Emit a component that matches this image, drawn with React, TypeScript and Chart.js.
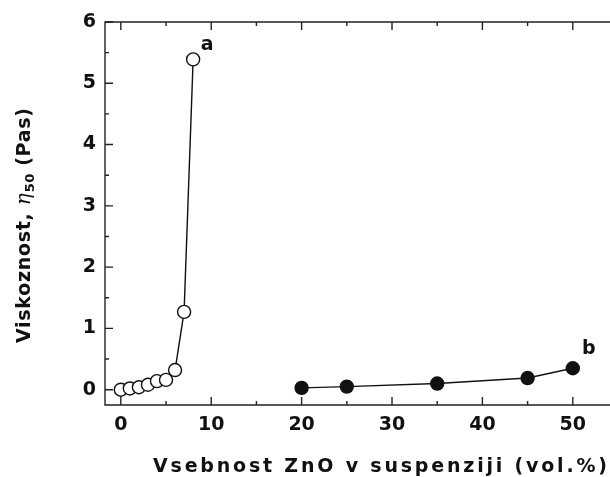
import React, { useEffect, useRef } from "react";
import { Chart, registerables } from "chart.js";

Chart.register(...registerables);

const xA = [0, 1, 2, 3, 4, 5, 6, 7, 8];
const yA = [0, 0.02, 0.04, 0.08, 0.14, 0.16, 0.32, 1.27, 5.39];
const xB = [20, 25, 35, 45, 50];
const yB = [0.03, 0.05, 0.1, 0.19, 0.35];
const xTicks = [0, 10, 20, 30, 40, 50];
const yTicks = [0, 1, 2, 3, 4, 5, 6];
const xTitle = "Vsebnost ZnO v suspenziji (vol.%)";
const yTitleParts = ["Viskoznost, ", "η", "50", " (Pas)"];
const seriesLabels = ["a", "b"];

const FONT = "'DejaVu Sans', sans-serif";

function plainWidth(ctx: any, text: string) {
  ctx.letterSpacing = "0px";
  return ctx.measureText(text).width;
}

const framePlugin = {
  id: "frame",
  afterDraw(chart: any) {
    const { ctx, chartArea: a, scales } = chart;
    const xs = scales.x;
    const ys = scales.y;
    ctx.save();
    ctx.strokeStyle = "#222";
    ctx.lineWidth = 1.4;
    ctx.beginPath();
    ctx.moveTo(a.left, a.top);
    ctx.lineTo(a.right, a.top);
    ctx.lineTo(a.right, a.bottom);
    ctx.lineTo(a.left, a.bottom);
    ctx.closePath();
    ctx.stroke();
    for (let v = 0; v <= 55; v += 5) {
      const px = xs.getPixelForValue(v);
      const len = v % 10 === 0 ? 8 : 4;
      ctx.beginPath();
      ctx.moveTo(px, a.bottom);
      ctx.lineTo(px, a.bottom - len);
      ctx.moveTo(px, a.top);
      ctx.lineTo(px, a.top + len);
      ctx.stroke();
    }
    for (let v = 0; v <= 6; v += 0.5) {
      const py = ys.getPixelForValue(v);
      const len = Number.isInteger(v) ? 8 : 4;
      ctx.beginPath();
      ctx.moveTo(a.left, py);
      ctx.lineTo(a.left + len, py);
      ctx.moveTo(a.right, py);
      ctx.lineTo(a.right - len, py);
      ctx.stroke();
    }
    // series labels
    ctx.fillStyle = "#111";
    ctx.font = `bold 19px ${FONT}`;
    ctx.textAlign = "center";
    ctx.textBaseline = "middle";
    const la = chart.getDatasetMeta(0).data[xA.length - 1];
    ctx.fillText(seriesLabels[0], la.x + 14, la.y - 14);
    const lb = chart.getDatasetMeta(1).data[xB.length - 1];
    ctx.fillText(seriesLabels[1], lb.x + 16, lb.y - 19);

    // x title, spread to target width
    ctx.font = `bold 19px ${FONT}`;
    ctx.textAlign = "left";
    ctx.textBaseline = "alphabetic";
    const targetX = 454;
    const w0x = plainWidth(ctx, xTitle);
    const spX = (targetX - w0x) / (xTitle.length - 1);
    (ctx as any).letterSpacing = `${spX}px`;
    ctx.fillText(xTitle, 153, 472);
    (ctx as any).letterSpacing = "0px";

    // y title
    ctx.save();
    ctx.translate(30, 225.5);
    ctx.rotate(-Math.PI / 2);
    ctx.textAlign = "left";
    ctx.textBaseline = "alphabetic";
    const fMain = `bold 19px ${FONT}`;
    const fEta = `italic 20px 'DejaVu Serif', serif`;
    const fSub = `bold 13px ${FONT}`;
    ctx.font = fMain;
    const n0 = plainWidth(ctx, yTitleParts[0]);
    const n3 = plainWidth(ctx, yTitleParts[3]);
    ctx.font = fEta;
    const w1 = ctx.measureText(yTitleParts[1]).width + 1;
    ctx.font = fSub;
    const w2 = plainWidth(ctx, yTitleParts[2]) + 1;
    const targetY = 235;
    const nChars = yTitleParts[0].length + yTitleParts[3].length - 1;
    const sp = Math.max(0, (targetY - (n0 + n3 + w1 + w2)) / nChars);
    const w0 = n0 + sp * yTitleParts[0].length;
    const total = w0 + w1 + w2 + n3 + sp * (yTitleParts[3].length - 1);
    let x = -total / 2;
    ctx.font = fMain;
    (ctx as any).letterSpacing = `${sp}px`;
    ctx.fillText(yTitleParts[0], x, 0);
    x += w0;
    ctx.font = fEta;
    (ctx as any).letterSpacing = "0px";
    ctx.fillText(yTitleParts[1], x, 0);
    x += w1;
    ctx.font = fSub;
    (ctx as any).letterSpacing = "0.5px";
    ctx.fillText(yTitleParts[2], x, 4);
    x += w2;
    ctx.font = fMain;
    (ctx as any).letterSpacing = `${sp}px`;
    ctx.fillText(yTitleParts[3], x, 0);
    (ctx as any).letterSpacing = "0px";
    ctx.restore();
    ctx.restore();
  },
};

export default function App() {
  const ref = useRef<HTMLCanvasElement>(null);
  useEffect(() => {
    if (!ref.current) return;
    const chart = new Chart(ref.current, {
      type: "scatter",
      data: {
        datasets: [
          {
            data: xA.map((x, i) => ({ x, y: yA[i] })),
            showLine: true,
            borderColor: "#111",
            borderWidth: 1.4,
            pointRadius: 6.5,
            pointBackgroundColor: "#fff",
            pointBorderColor: "#111",
            pointBorderWidth: 1.4,
            clip: false,
          },
          {
            data: xB.map((x, i) => ({ x, y: yB[i] })),
            showLine: true,
            borderColor: "#111",
            borderWidth: 1.4,
            pointRadius: 6.5,
            pointBackgroundColor: "#111",
            pointBorderColor: "#111",
            pointBorderWidth: 1.4,
            clip: false,
          },
        ],
      },
      options: {
        animation: false,
        responsive: false,
        layout: { autoPadding: false, padding: { top: 22, right: 0, left: 0, bottom: 0 } },
        plugins: { legend: { display: false }, tooltip: { enabled: false } },
        scales: {
          x: {
            type: "linear",
            min: -1.75,
            max: 55,
            grid: { display: false, drawTicks: false },
            border: { display: false },
            ticks: {
              padding: 9,
              color: "#111",
              font: { family: FONT, size: 19, weight: "bold" },
              maxRotation: 0,
            },
            afterBuildTicks: (s: any) => {
              s.ticks = xTicks.map((v) => ({ value: v }));
            },
            afterFit: (s: any) => {
              s.height = 72;
            },
          },
          y: {
            type: "linear",
            min: -0.25,
            max: 6,
            grid: { display: false, drawTicks: false },
            border: { display: false },
            ticks: {
              padding: 9,
              color: "#111",
              font: { family: FONT, size: 19, weight: "bold" },
            },
            afterBuildTicks: (s: any) => {
              s.ticks = yTicks.map((v) => ({ value: v }));
            },
            afterFit: (s: any) => {
              s.width = 105;
            },
          },
        },
      },
      plugins: [framePlugin],
    });
    return () => chart.destroy();
  }, []);
  return (
    <div
      style={{
        position: "fixed",
        left: 0,
        top: 0,
        width: 610,
        height: 477,
        overflow: "hidden",
        background: "#fff",
      }}
    >
      <div style={{ width: 618, height: 477 }}>
        <canvas
          ref={ref}
          width={618}
          height={477}
          style={{ display: "block", width: 618, height: 477 }}
        />
      </div>
    </div>
  );
}
